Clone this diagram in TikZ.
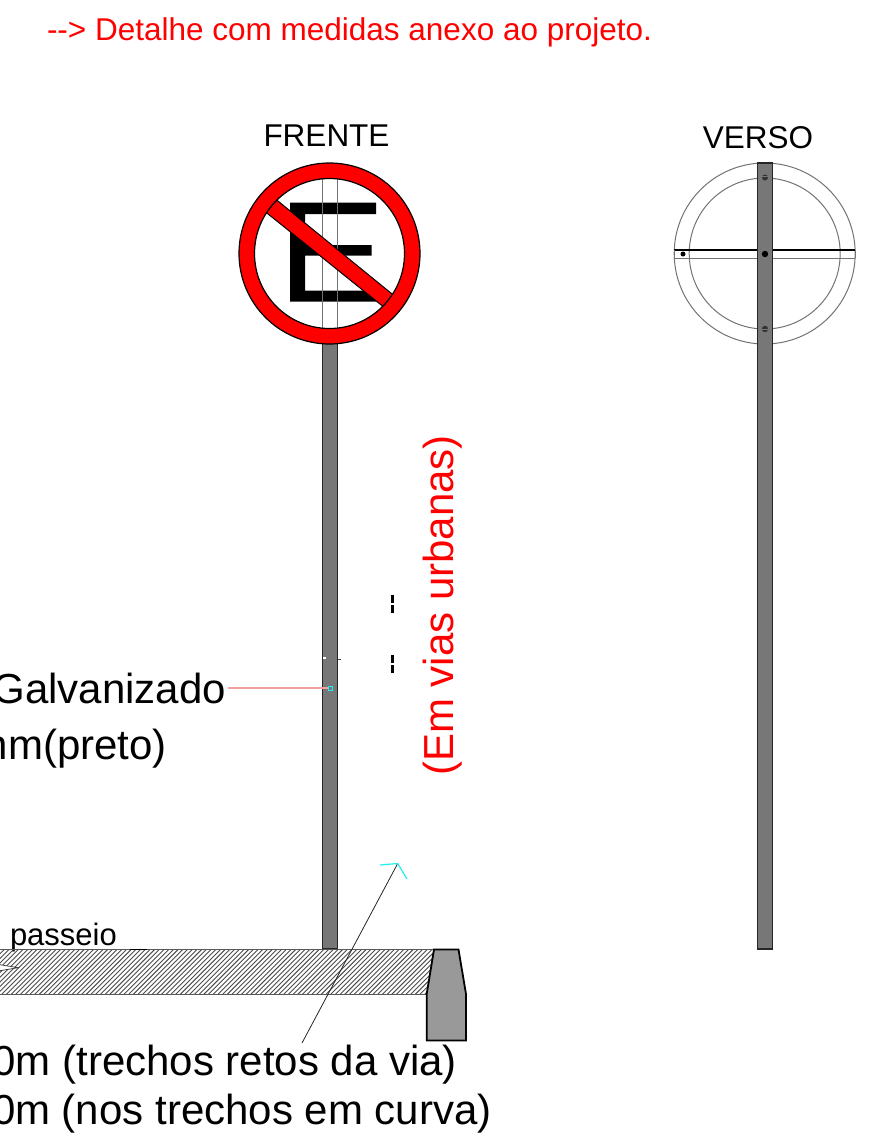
\documentclass[tikz,border=0pt]{standalone}
\usepackage{fontspec}
\setmainfont{Liberation Sans}[Ligatures=NoCommon]
\definecolor{polegray}{HTML}{777777}
\definecolor{curbgray}{HTML}{999999}
\definecolor{signred}{HTML}{FF0000}
\definecolor{leadpink}{HTML}{F4A0A0}
\definecolor{cyanmark}{HTML}{22EEEE}
\tikzset{
  lab/.style={inner sep=0pt,outer sep=0pt,text=black},
  bigtxt/.style={lab,font=\fontsize{42}{42}\selectfont},
  headtxt/.style={lab,font=\fontsize{31.5}{31}\selectfont},
  pole/.style={fill=polegray,draw=black!85,line width=1.2pt},
  ringline/.style={draw=black!55,line width=1pt},
  leader/.style={draw=black!85,line width=0.8pt},
  hatchline/.style={draw=black!70,line width=0.9pt},
  cyanline/.style={draw=cyanmark,line width=1.2pt},
  tickmark/.style={draw=black,line width=2.8pt}
}
\begin{document}
\begin{tikzpicture}[x=1pt,y=-1pt]
\useasboundingbox (0,0) rectangle (892,1138);
% texts
\node[lab,text=red,font=\fontsize{31.5}{31}\selectfont,anchor=base west] (top) at (47,40.5) {{-}{-}{>} Detalhe com medidas anexo ao projeto.};
\node[headtxt,anchor=base] (frente) at (326.5,146) {FRENTE};
\node[headtxt,anchor=base] (verso) at (758,148) {VERSO};
\node[bigtxt,text=red,rotate=90,anchor=base] (urb) at (453.5,605.5) {(Em vias urbanas)};
\node[bigtxt,anchor=base east] (galv) at (226,703) {Galvanizado};
\node[bigtxt,anchor=base east] (preto) at (167,759) {nm(preto)};
\node[lab,font=\fontsize{31}{31}\selectfont,anchor=base west] (pass) at (10,945) {passeio};
\node[bigtxt,anchor=base east] (t1) at (457,1075) {0m (trechos retos da via)};
\node[bigtxt,anchor=base east] (t2) at (491.5,1124) {0m (nos trechos em curva)};
% front pole and sign
\path[pole] (322.5,340) rectangle (337.5,949);
\fill[white] (329.5,253.5) circle (90);
\fill[black] (290,202.5) -- (376,202.5) -- (376,214) -- (305,214) -- (305,245) -- (371.5,245) -- (371.5,255.5) -- (305,255.5) -- (305,290.5) -- (376,290.5) -- (376,301.5) -- (290,301.5) -- cycle;
\draw[ringline] (322.5,170) -- (322.5,340) (337.5,170) -- (337.5,340);
\draw[fill=signred,draw=black,line width=1pt] (276.7,200) -- (393.3,295) -- (383.3,306.7) -- (266,212.3) -- cycle;
\draw[fill=signred,draw=black,line width=1.2pt,even odd rule] (329.5,253.5) circle (90.5) (329.5,253.5) circle (75);
% back pole and sign
\draw[ringline] (764.7,253.5) circle (90.5) (764.7,253.5) circle (75.5);
\draw[draw=black,line width=2.3pt] (674,250) -- (855,250);
\draw[ringline] (674,258) -- (855,258) (674,250) -- (674,258) (855,250) -- (855,258);
\path[pole] (757.2,163) rectangle (772.6,949);
\fill[black] (765,254) circle (3.2) (683,254) circle (2.5);
\fill[black!80] (765,177.5) circle (3) (765,329) circle (3.2);
\draw[polegray,line width=0.8pt] (762,176.8) -- (768,176.8) (762,329) -- (768,329);
% marks on the front pole
\node[inner sep=0pt,minimum width=3pt,minimum height=2pt,fill=white] (wmark) at (324.5,658) {};
\draw[black!70,line width=0.5pt] (338,659) -- (341,659);
\foreach \yy in {595,605,655,665}{\draw[tickmark] (392.7,\yy) -- (392.7,\yy+8);}
% sidewalk
\begin{scope}
\clip (0,949.5) -- (434,949.5) -- (427,994.5) -- (0,994.5) -- cycle;
\foreach \xx in {0,4.7,...,500}{\draw[hatchline] (\xx,949) -- (\xx-46,995);}
\end{scope}
\draw[black!65,line width=1.2pt] (0,949.5) -- (434,949.5) (0,994.5) -- (427,994.5);
\draw[black,line width=1.3pt] (130,949.3) -- (147,949.3);
\draw[fill=curbgray,draw=black,line width=1.8pt] (434,949.5) -- (458.5,949.5) -- (466,994) -- (466,1040.5) -- (426.7,1040.5) -- (426.7,994) -- cycle;
% small arrow in the sidewalk
\coordinate (arrtip) at (18,967.7);
\coordinate (arrA) at (0,964.7);
\coordinate (arrB) at (0,970.7);
\fill[white] (arrA) -- (arrtip) -- (arrB) -- cycle;
\draw[black!80,line width=0.7pt] (arrA) -- (arrtip) -- (arrB);
% leaders
\coordinate (pinkend) at (328,688);
\node[inner sep=0pt,minimum size=4pt,fill=polegray,draw=cyanmark,line width=1pt] (cyansq) at (330,688) {};
\draw[leadpink,line width=1.1pt] (galv.base east |- pinkend) ++(2,0) -- (cyansq.west);
\coordinate (ltip) at (397.7,863.5);
\coordinate (lfoot) at (302,1043);
\coordinate (c1) at (380,865);
\coordinate (c2) at (407,879);
\draw[leader] (lfoot) -- (ltip);
\draw[cyanline] (c1) -- (ltip) -- (c2);
\end{tikzpicture}
\end{document}
